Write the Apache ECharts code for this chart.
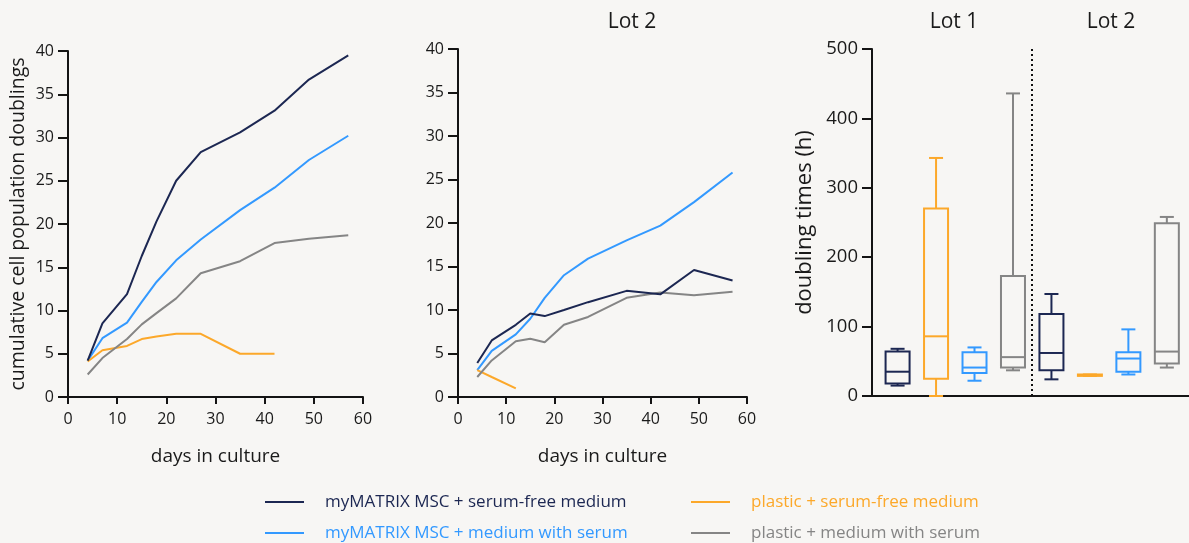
<!DOCTYPE html>
<html>
<head>
<meta charset="utf-8">
<script src="https://cdn.jsdelivr.net/npm/echarts@6/dist/echarts.min.js"></script>
<style>
html,body{margin:0;padding:0;background:#f7f6f4;}
#c{width:1189px;height:543px;}
</style>
</head>
<body>
<div id="c"></div>
<script>
// ---------- DATA ----------
const seriesNames = ['myMATRIX MSC + serum-free medium','myMATRIX MSC + medium with serum','plastic + serum-free medium','plastic + medium with serum'];
const days = [4,7,12,15,18,22,27,35,42,49,57];
// Lot 1 (left chart)
const lot1Navy   = [4.2, 8.5, 11.9, 16.3, 20.3, 25.0, 28.3, 30.6, 33.1, 36.7, 39.5];
const lot1Blue   = [4.2, 6.8, 8.6, 11.0, 13.3, 15.8, 18.2, 21.6, 24.2, 27.4, 30.2];
const lot1Orange = [4.1, 5.4, 5.9, 6.7, 7.0, 7.3, 7.3, 5.0, 5.0];
const lot1Gray   = [2.6, 4.5, 6.7, 8.4, 9.7, 11.4, 14.3, 15.7, 17.8, 18.3, 18.7];
// Lot 2 (middle chart)
const lot2Navy   = [3.9, 6.5, 8.3, 9.6, 9.3, 10.0, 10.9, 12.2, 11.8, 14.6, 13.4];
const lot2Blue   = [3.1, 5.3, 7.2, 9.0, 11.4, 14.0, 15.9, 18.0, 19.7, 22.4, 25.8];
const lot2Orange = [3.1, 2.3, 1.0];
const lot2Gray   = [2.3, 4.2, 6.4, 6.7, 6.3, 8.3, 9.2, 11.4, 12.0, 11.7, 12.1];
// Doubling times box plots: [min, q1, median, q3, max]
const boxLot1 = [
  [15, 18, 35, 64, 68],
  [0, 25, 86, 270, 343],
  [22, 33, 41, 63, 70],
  [37, 41, 56, 173, 436]
];
const boxLot2 = [
  [24, 37, 62, 118, 147],
  [29, 29, 30, 31, 31],
  [31, 35, 54, 63, 96],
  [41, 47, 64, 249, 258]
];
const boxSeriesOrder = [0, 2, 1, 3]; // navy, orange, blue, gray
const xTicks = [0,10,20,30,40,50,60];
const yTicksLine = [0,5,10,15,20,25,30,35,40];
const yTicksBox = [0,100,200,300,400,500];

// ---------- STYLE ----------
const colors = ['#1c2752','#3399ff','#fca82a','#858585'];
const FONT = '"Open Sans", "Noto Sans", sans-serif';
const AX = '#141414';
const TXT = '#1a1a1a';

function zip(xs, ys){ return ys.map((v,i)=>[xs[i], v]); }

const chart = echarts.init(document.getElementById('c'), null, {renderer:'canvas'});

function lineXAxis(gi){
  return {
    gridIndex: gi, type:'value', min: xTicks[0], max: xTicks[xTicks.length-1], interval: 10,
    name: 'days in culture', nameLocation:'middle', nameGap: 50,
    nameTextStyle:{fontFamily:FONT, fontSize:19, color:TXT},
    axisLine:{show:true, onZero:false, lineStyle:{color:AX, width:2}},
    axisTick:{show:true, length:7, lineStyle:{color:AX, width:2}},
    axisLabel:{fontFamily:FONT, fontSize:16, color:TXT, margin:14},
    splitLine:{show:false}
  };
}
function lineYAxis(gi, name){
  return {
    gridIndex: gi, type:'value', min: yTicksLine[0], max: yTicksLine[yTicksLine.length-1], interval: 5,
    name: name || '', nameLocation:'middle', nameGap: 40,
    nameTextStyle:{fontFamily:FONT, fontSize:19.5, color:TXT},
    axisLine:{show:true, onZero:false, lineStyle:{color:AX, width:2}},
    axisTick:{show:true, length:10, lineStyle:{color:AX, width:2}},
    axisLabel:{fontFamily:FONT, fontSize:16, color:TXT, margin:14},
    splitLine:{show:false}
  };
}

const lineSeries = [];
const lot1 = [lot1Navy, lot1Blue, lot1Orange, lot1Gray];
const lot2 = [lot2Navy, lot2Blue, lot2Orange, lot2Gray];
[lot1, lot2].forEach((lot, gi)=>{
  lot.forEach((vals, si)=>{
    lineSeries.push({
      type:'line', name: seriesNames[si], xAxisIndex: gi, yAxisIndex: gi,
      data: zip(days, vals), showSymbol:false, symbol:'none',
      lineStyle:{color:colors[si], width:2}, itemStyle:{color:colors[si]},
      z: si===0 ? 5 : 3, silent:true, animation:false
    });
  });
});

// box data: [xIndex, min, q1, med, q3, max, colorIndex]
const boxData = [];
boxLot1.forEach((b,i)=>boxData.push([i].concat(b, [boxSeriesOrder[i]])));
boxLot2.forEach((b,i)=>boxData.push([i+4].concat(b, [boxSeriesOrder[i]])));

const boxSeries = {
  type:'custom', name:'doubling times', xAxisIndex:2, yAxisIndex:2,
  data: boxData, animation:false, silent:true,
  encode:{x:0, y:[1,5]},
  renderItem: function(params, api){
    const xi = api.value(0);
    const c = colors[api.value(6)];
    const pMin = api.coord([xi, api.value(1)]);
    const pQ1 = api.coord([xi, api.value(2)]);
    const pMed = api.coord([xi, api.value(3)]);
    const pQ3 = api.coord([xi, api.value(4)]);
    const pMax = api.coord([xi, api.value(5)]);
    const cx = pMin[0];
    const bw = 24, cw = 14;
    const st = {stroke:c, lineWidth:2, fill:null};
    return {
      type:'group',
      children:[
        {type:'line', shape:{x1:cx,y1:pMin[1],x2:cx,y2:pQ1[1]}, style:st},
        {type:'line', shape:{x1:cx,y1:pQ3[1],x2:cx,y2:pMax[1]}, style:st},
        {type:'line', shape:{x1:cx-cw/2,y1:pMin[1],x2:cx+cw/2,y2:pMin[1]}, style:st},
        {type:'line', shape:{x1:cx-cw/2,y1:pMax[1],x2:cx+cw/2,y2:pMax[1]}, style:st},
        {type:'rect', shape:{x:cx-bw/2,y:pQ3[1],width:bw,height:pQ1[1]-pQ3[1]}, style:{stroke:c, lineWidth:2, fill:(pQ1[1]-pQ3[1])<3? c : null}},
        {type:'line', shape:{x1:cx-bw/2,y1:pMed[1],x2:cx+bw/2,y2:pMed[1]}, style:st}
      ]
    };
  },
  markLine:{
    silent:true, symbol:'none', animation:false,
    label:{show:false},
    lineStyle:{color:'#111', type:[2,3], width:2},
    data:[[{coord:[3.5,0]},{coord:[3.5,500]}]]
  }
};

function legendItem(idx, left, top){
  return {
    orient:'horizontal', left:left, top:top, padding:0,
    itemWidth:39, itemHeight:2, icon:'rect', selectedMode:false,
    data:[{name:seriesNames[idx], itemStyle:{color:colors[idx]}, textStyle:{color:colors[idx]}}],
    textStyle:{fontFamily:FONT, fontSize:17, lineHeight:20, padding:[0,0,0,16]}
  };
}

const option = {
  backgroundColor:'#f7f6f4',
  animation:false,
  textStyle:{fontFamily:FONT},
  title:[
    {text:'Lot 2', left:627, top:7, textAlign:'center', textStyle:{fontFamily:FONT, fontSize:21, fontWeight:'normal', color:TXT}},
    {text:'Lot 1', left:949, top:7, textAlign:'center', textStyle:{fontFamily:FONT, fontSize:21, fontWeight:'normal', color:TXT}},
    {text:'Lot 2', left:1106, top:7, textAlign:'center', textStyle:{fontFamily:FONT, fontSize:21, fontWeight:'normal', color:TXT}}
  ],
  legend:[
    legendItem(0, 265, 492),
    legendItem(1, 265, 523),
    legendItem(2, 691, 492),
    legendItem(3, 691, 523)
  ],
  grid:[
    {left:68, top:51, width:295, height:346},
    {left:458, top:49, width:289, height:348},
    {left:872, top:49, right:0, height:347}
  ],
  xAxis:[
    lineXAxis(0), lineXAxis(1),
    {gridIndex:2, type:'value', min:-0.665, max:7.576,
     axisLine:{show:true, onZero:false, lineStyle:{color:AX, width:2}},
     axisTick:{show:false}, axisLabel:{show:false}, splitLine:{show:false}}
  ],
  yAxis:[
    lineYAxis(0, 'cumulative cell population doublings'), lineYAxis(1, ''),
    {gridIndex:2, type:'value', min:yTicksBox[0], max:yTicksBox[yTicksBox.length-1], interval:100,
     name:'doubling times (h)', nameLocation:'middle', nameGap:56,
     nameTextStyle:{fontFamily:FONT, fontSize:22, color:TXT},
     axisLine:{show:true, onZero:false, lineStyle:{color:AX, width:2}},
     axisTick:{show:true, length:10, lineStyle:{color:AX, width:2}},
     axisLabel:{fontFamily:FONT, fontSize:18.5, color:TXT, margin:14},
     splitLine:{show:false}}
  ],
  series: lineSeries.concat([boxSeries])
};
chart.setOption(option);
</script>
</body>
</html>
